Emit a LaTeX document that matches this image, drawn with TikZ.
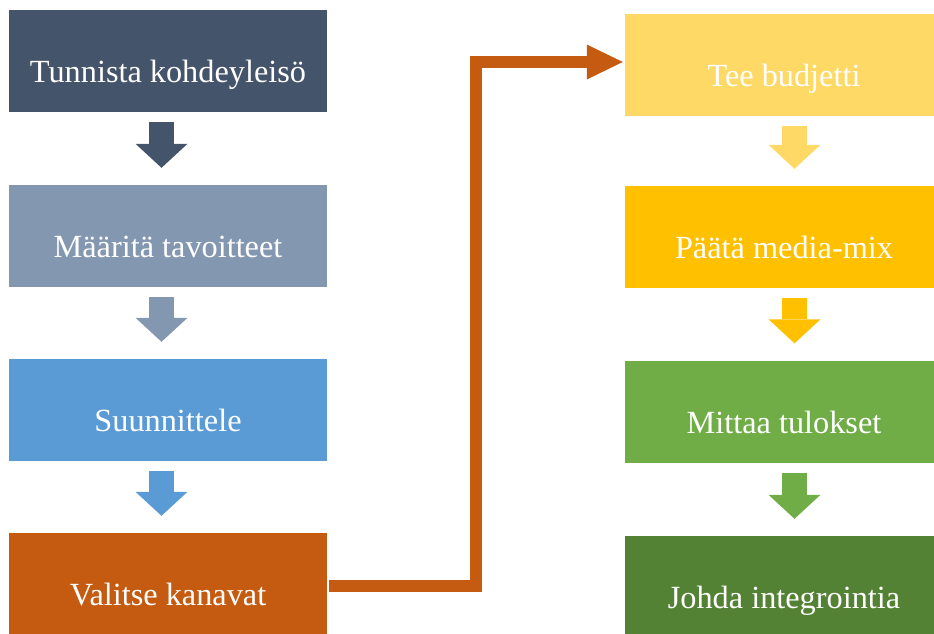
\documentclass[tikz,border=0pt]{standalone}
\usepackage{fontspec}
\setmainfont{Liberation Serif}
\usetikzlibrary{arrows.meta}

\definecolor{stepA}{HTML}{44546A}
\definecolor{stepB}{HTML}{8497B0}
\definecolor{stepC}{HTML}{5B9BD5}
\definecolor{stepD}{HTML}{C55A11}
\definecolor{stepE}{HTML}{FFD966}
\definecolor{stepF}{HTML}{FFC000}
\definecolor{stepG}{HTML}{70AD47}
\definecolor{stepH}{HTML}{548235}

\begin{document}
\begin{tikzpicture}[x = 1pt, y = -1pt]
\tikzstyle{BoxStyle}=[shape = rectangle,
                      minimum width = 318pt,
                      minimum height = 102pt,
                      inner sep = 0pt,
                      text = white,
                      font = \fontsize{32.3}{37}\selectfont,
                      text height = 43pt, text depth = 0pt]
\tikzstyle{DownStyle}=[line width = 25pt,
                       shorten < = 10pt, shorten > = 17pt,
                       -{Triangle[width = 52pt, length = 24pt, line width = 0pt]}]
\tikzstyle{JumpStyle}=[line width = 12pt, line join = miter,
                       -{Triangle[width = 35pt, length = 36pt, line width = 0pt]}]
\useasboundingbox (0,0) rectangle (934,633);
% left column
\node[BoxStyle, fill = stepA] (b0) at (168, 61) {Tunnista kohdeyleisö};
\node[BoxStyle, fill = stepB] (b1) at (168, 236) {Määritä tavoitteet};
\node[BoxStyle, fill = stepC] (b2) at (168, 410) {Suunnittele};
\node[BoxStyle, fill = stepD] (b3) at (168, 584) {Valitse kanavat};
% right column
\node[BoxStyle, fill = stepE] (b4) at (784, 64.5) {Tee budjetti};
\node[BoxStyle, fill = stepF] (b5) at (784, 237) {Päätä media-mix};
\node[BoxStyle, fill = stepG] (b6) at (784, 411.5) {Mittaa tulokset};
\node[BoxStyle, fill = stepH] (b7) at (784, 587) {Johda integrointia};
% arrows
\draw[DownStyle, stepA] ([xshift = -6.5pt]b0.south) -- ([xshift = -6.5pt]b1.north);
\draw[DownStyle, stepB] ([xshift = -6.5pt]b1.south) -- ([xshift = -6.5pt]b2.north);
\draw[DownStyle, stepC] ([xshift = -6.5pt]b2.south) -- ([xshift = -6.5pt]b3.north);
\draw[DownStyle, stepE] ([xshift = 10.5pt]b4.south) -- ([xshift = 10.5pt]b5.north);
\draw[DownStyle, stepF] ([xshift = 10.5pt]b5.south) -- ([xshift = 10.5pt]b6.north);
\draw[DownStyle, stepG] ([xshift = 10.5pt]b6.south) -- ([xshift = 10.5pt]b7.north);
\draw[JumpStyle, stepD] ([xshift = 2pt, yshift = -2pt]b3.east) -- ++(147,0) |- ([xshift = -2pt, yshift = 2.5pt]b4.west);
\end{tikzpicture}
\end{document}
